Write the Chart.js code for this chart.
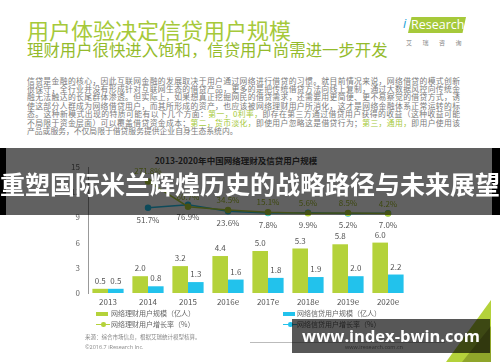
<!DOCTYPE html>
<html>
<head>
<meta charset="utf-8">
<script src="https://cdn.jsdelivr.net/npm/chart.js@4.4.1/dist/chart.umd.min.js"></script>
<style>
body{margin:0;width:500px;height:362px;overflow:hidden;background:#fff;position:relative;font-family:"Noto Sans CJK SC",sans-serif}
.a{position:absolute;white-space:nowrap}
.p{position:absolute;left:27px;width:433px;font-size:7.8px;line-height:8.45px;color:#7a7a7a;white-space:nowrap;text-align:justify;text-align-last:justify}
.g{color:#a6c93a}
.lg{position:absolute;font-size:7px;line-height:8px;color:#666;white-space:nowrap}
#chartBox{position:absolute;left:0;top:150px;width:500px;height:160px}
</style>
</head>
<body>
<div class="a" style="left:27px;top:17.8px;font-size:22px;line-height:22px;color:#a6c93a">用户体验决定信贷用户规模</div>
<div class="a" style="left:27px;top:40.9px;font-size:16.4px;line-height:16.4px;color:#94bb2c">理财用户很快进入饱和，信贷用户尚需进一步开发</div>

<div class="a" style="left:403px;top:15px;font-size:13px;line-height:16px;color:#1a9fd8;font-style:italic;font-family:'Open Sans'">i</div>
<div class="a" style="left:408px;top:17px;width:58px;height:16px;background:#a6c93a;clip-path:polygon(6% 0,100% 0,94% 100%,0 100%)"></div>
<div class="a" style="left:411px;top:16px;font-size:12.5px;line-height:17px;color:#fff;font-family:'Open Sans'">Research</div>
<div class="a" style="left:406px;top:39px;font-size:6px;line-height:8px;color:#888;letter-spacing:10.5px">艾瑞咨询</div>

<div class="p" style="top:76.5px">信贷是金融的核心，因此互联网金融的发展取决于用户通过网络进行借贷的习惯。就目前情况来说，网络借贷的模式创新</div>
<div class="p" style="top:85px">很保守，全行业并没有形成针对互联网生态的借贷产品，更多的是把传统借贷方法向线上复制，通过大数据风控向传统金</div>
<div class="p" style="top:93.4px">融无法触达的长尾群体渗透。但实际上，如果想真正挖掘网民的借贷需求，还需要用更简便、更不易察觉的借贷方式，诱</div>
<div class="p" style="top:101.9px">使这部分人群成为网络借贷用户，而其所形成的资产，也应该被网络理财用户所消化，这才是网络金融体系正常运转的标</div>
<div class="p" style="top:110.3px">态。这种新模式出现的特质可能有以下几个方面：<span class="g">第一，0利率，</span>即存在第三方通过借贷用户获得的收益（这种收益可能</div>
<div class="p" style="top:118.8px">不局限于资金层面）可以覆盖借贷资金成本；<span class="g">第二，货币淡化，</span>即使用户忽略这是借贷行为；<span class="g">第三，通用，</span>即用户使用该</div>
<div class="p" style="top:127.2px;text-align-last:left">产品或服务，不仅局限于借贷服务提供企业自身生态系统内。</div>

<div class="a" style="left:0;width:472px;text-align:center;top:156.3px;font-size:8.5px;line-height:9px;font-weight:bold;color:#404040">2013-2020年中国网络理财及信贷用户规模</div>

<div id="chartBox"><canvas id="c" width="500" height="160"></canvas></div>

<div class="a" style="left:96px;top:311.5px;width:12px;height:4px;background:#b4d23a"></div>
<div class="lg" style="left:111px;top:309px">网络理财用户规模（亿人）</div>
<div class="a" style="left:96px;top:323.5px;width:14px;height:1.5px;background:#b4d23a"></div>
<div class="a" style="left:101px;top:322px;width:4.5px;height:4.5px;border-radius:50%;background:#b4d23a"></div>
<div class="lg" style="left:111px;top:320px">网络理财用户增长率（%）</div>

<div class="a" style="left:283px;top:311.5px;width:12px;height:4px;background:#22c2ec"></div>
<div class="lg" style="left:297px;top:309px">网络信贷用户规模（亿人）</div>
<div class="a" style="left:283px;top:323.5px;width:14px;height:1.5px;background:#22c2ec"></div>
<div class="a" style="left:288px;top:322px;width:4.5px;height:4.5px;border-radius:50%;background:#22c2ec"></div>
<div class="lg" style="left:297px;top:320px">网络信贷用户增长率（%）</div>

<div class="a" style="left:85px;top:333.5px;font-size:5.5px;line-height:7px;color:#888">来源：综合市场信息，根据艾瑞统计模型核算。</div>
<div class="a" style="left:85px;top:343.5px;font-size:5.5px;line-height:7px;color:#888;font-family:'Open Sans'">©2016.7 iResearch Inc.</div>
<div class="a" style="left:250px;top:341.5px;width:195px;height:1px;background:#bbb"></div>
<div class="a" style="left:345px;top:343.5px;font-size:5.5px;line-height:7px;color:#888;font-family:'Open Sans'">www.iresearch.com.cn</div>
<div class="a" style="left:472px;top:345px;font-size:8px;line-height:9px;color:#888;font-family:'Open Sans'">11</div>
<svg class="a" style="left:0;top:0" width="500" height="362">
  <polygon points="491,300 491,362 446,362" fill="#b4d23a"/>
  <polygon points="491,326 491,362 462,362" fill="#8fa52a"/>
</svg>

<div class="a" style="left:0;top:148px;width:500px;height:67px;background:rgba(0,0,0,0.62)"></div>
<div class="a" style="left:0;top:148px;width:6px;height:67px;background:#000"></div>
<div class="a" style="left:492px;top:148px;width:8px;height:67px;background:#000"></div>
<div class="a" style="left:0;top:171px;width:500px;font-size:25px;line-height:25px;font-weight:bold;color:#fff;text-align:center">重塑国际米兰辉煌历史的战略路径与未来展望</div>

<div class="a" style="left:292px;top:319px;width:198px;height:34px;background:rgba(0,0,0,0.66);display:flex;align-items:center;justify-content:center">
  <span id="wm" style="font-family:'Open Sans';font-weight:bold;color:#fff;font-size:18px;line-height:20px">www.index-bwin.com</span>
</div>

<script>
const years = ['2013', '2014', '2015', '2016e', '2017e', '2018e', '2019e', '2020e'];
const wealthUsers = [0.5, 2.0, 3.2, 4.4, 5.0, 5.3, 5.8, 6.0];
const loanUsers = [0.5, 0.8, 1.3, 1.6, 1.8, 1.9, 2.0, 2.2];
const wealthGrowth = [null, 271.8, 60.7, 34.5, 15.1, 5.6, 8.5, 4.2];
const loanGrowth = [null, 51.7, 76.9, 23.6, 7.8, 9.9, 5.2, 7.0];
const yMax = 15;
const yStep = 3;

// fit watermark text to its box
const wm = document.getElementById('wm');
wm.style.fontSize = (18 * 178 / wm.getBoundingClientRect().width) + 'px';

const green = '#b4d23a';
const blue = '#22c2ec';

// value labels for bars and lines
const valueLabels = {
  id: 'valueLabels',
  afterDatasetsDraw(chart) {
    const ctx = chart.ctx;
    ctx.save();
    ctx.font = '8px "Noto Sans CJK SC"';
    ctx.textAlign = 'center';
    ctx.textBaseline = 'middle';
    chart.data.datasets.forEach((ds, i) => {
      chart.getDatasetMeta(i).data.forEach((el, j) => {
        const v = ds.data[j];
        if (v == null) return;
        if (i < 2) {
          ctx.fillStyle = '#555';
          ctx.fillText(v.toFixed(1), el.x, el.y - 8);
        } else if (i == 2) {
          ctx.fillStyle = '#a3bd2e';
          ctx.fillText(v.toFixed(1) + '%', el.x, el.y - 10);
        } else {
          ctx.fillStyle = '#555';
          ctx.fillText(v.toFixed(1) + '%', el.x, el.y + 12);
        }
      });
    });
    ctx.restore();
  }
};

new Chart(document.getElementById('c'), {
  data: {
    labels: years,
    datasets: [
      {type: 'bar', label: '网络理财用户规模（亿人）', data: wealthUsers, backgroundColor: green,
       yAxisID: 'y', categoryPercentage: 0.78, barPercentage: 1},
      {type: 'bar', label: '网络信贷用户规模（亿人）', data: loanUsers, backgroundColor: blue,
       yAxisID: 'y', categoryPercentage: 0.78, barPercentage: 1},
      {type: 'line', label: '网络理财用户增长率（%）', data: wealthGrowth, borderColor: green, backgroundColor: green,
       borderWidth: 1.5, pointRadius: 2.5, yAxisID: 'y1'},
      {type: 'line', label: '网络信贷用户增长率（%）', data: loanGrowth, borderColor: blue, backgroundColor: blue,
       borderWidth: 1.5, pointRadius: 2.5, yAxisID: 'y1'}
    ]
  },
  options: {
    responsive: false,
    animation: false,
    layout: {padding: {left: 0, right: 92, top: 17, bottom: 0}},
    plugins: {legend: {display: false}, title: {display: false}, tooltip: {enabled: false}},
    scales: {
      x: {
        grid: {display: false, drawTicks: false},
        border: {display: false},
        ticks: {color: '#555', font: {size: 8, family: 'Noto Sans CJK SC'}, padding: 4},
        afterFit: s => { s.height = 17; }
      },
      y: {
        position: 'left',
        min: 0, max: yMax,
        grid: {display: false, drawTicks: false},
        border: {display: true, color: '#999'},
        ticks: {stepSize: yStep, color: '#666', font: {size: 8, family: 'Noto Sans CJK SC'}, padding: 8},
        afterFit: s => { s.width = 88; }
      },
      y1: {display: false, min: -658, max: 392}
    }
  },
  plugins: [valueLabels]
});
</script>
</body>
</html>
